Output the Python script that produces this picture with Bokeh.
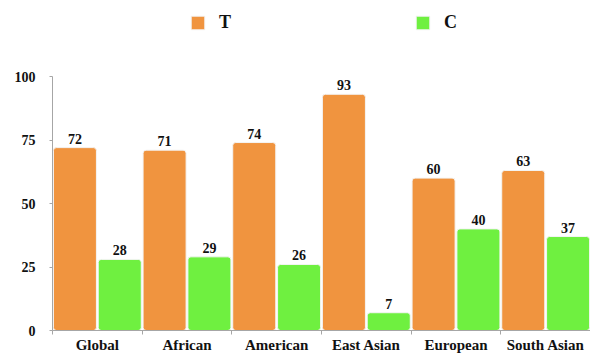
from bokeh.plotting import figure
from bokeh.models import Range1d, FixedTicker, Legend, LegendItem, ColumnDataSource
from bokeh.core.properties import value
from bokeh.embed import file_html
from bokeh.resources import INLINE

categories = ["Global", "African", "American", "East Asian", "European", "South Asian"]
t_values = [72, 71, 74, 93, 60, 63]
c_values = [28, 29, 26, 7, 40, 37]
y_ticks = [0, 25, 50, 75, 100]

FONT = "Liberation Serif"
ORANGE = "#F0943F"
GREEN = "#6FF040"

centers = [i + 0.5 for i in range(len(categories))]
src_t = ColumnDataSource(dict(x=[c - 0.25 for c in centers], top=t_values,
                              label=[str(v) for v in t_values]))
src_c = ColumnDataSource(dict(x=[c + 0.25 for c in centers], top=c_values,
                              label=[str(v) for v in c_values]))

# frame spans full height above the axis so the legend lives inside it;
# the value axis itself is bounded to 0..100
p = figure(width=590, height=356, output_backend="svg", toolbar_location=None,
           x_range=Range1d(0, len(categories)), y_range=Range1d(0, 100 * 330 / 254),
           min_border_left=52, min_border_right=0, min_border_top=0, min_border_bottom=26)
p.outline_line_color = None
p.xgrid.visible = False
p.ygrid.visible = False

rt = p.vbar(x="x", top="top", bottom=0, width=0.48, source=src_t,
            fill_color=ORANGE, line_color="#f4f4f4", line_width=1, border_radius=3)
rc = p.vbar(x="x", top="top", bottom=0, width=0.48, source=src_c,
            fill_color=GREEN, line_color="#f4f4f4", line_width=1, border_radius=3)

for src in (src_t, src_c):
    p.text(x="x", y="top", text="label", source=src, text_align="center",
           text_baseline="bottom", y_offset=-4, text_font=value(FONT),
           text_font_style="bold", text_font_size="14px", text_color="#111111")

# x axis
xa = p.xaxis[0]
xa.ticker = FixedTicker(ticks=centers, minor_ticks=list(range(len(categories) + 1)))
xa.major_label_overrides = {c: name for c, name in zip(centers, categories)}
xa.major_tick_in = 0
xa.major_tick_out = 0
xa.minor_tick_in = 0
xa.minor_tick_out = 4
xa.minor_tick_line_color = "#A6A6A6"
xa.axis_line_color = "#A6A6A6"
xa.major_label_standoff = 2
xa.major_label_text_font = FONT
xa.major_label_text_font_style = "bold"
xa.major_label_text_font_size = "15px"
xa.major_label_text_color = "#111111"

ya = p.yaxis[0]
ya.ticker = FixedTicker(ticks=y_ticks)
ya.bounds = (0, 100)
ya.minor_tick_line_color = None
ya.major_tick_in = 0
ya.major_tick_out = 3
ya.major_tick_line_color = "#A6A6A6"
ya.axis_line_color = "#A6A6A6"
ya.major_label_standoff = 14
ya.major_label_text_font = FONT
ya.major_label_text_font_style = "bold"
ya.major_label_text_font_size = "14px"
ya.major_label_text_color = "#111111"

def make_legend(label, renderer, x):
    lg = Legend(items=[LegendItem(label=label, renderers=[renderer])],
                location=(x, 297), orientation="horizontal", padding=0, margin=0,
                border_line_alpha=0, background_fill_alpha=0,
                glyph_width=17, glyph_height=17, label_standoff=13,
                label_text_font=FONT, label_text_font_style="bold",
                label_text_font_size="18px", label_text_color="#111111")
    p.add_layout(lg, "center")

make_legend("T", rt, 137)
make_legend("C", rc, 362)

open("out.html", "w").write(file_html(p, INLINE))
